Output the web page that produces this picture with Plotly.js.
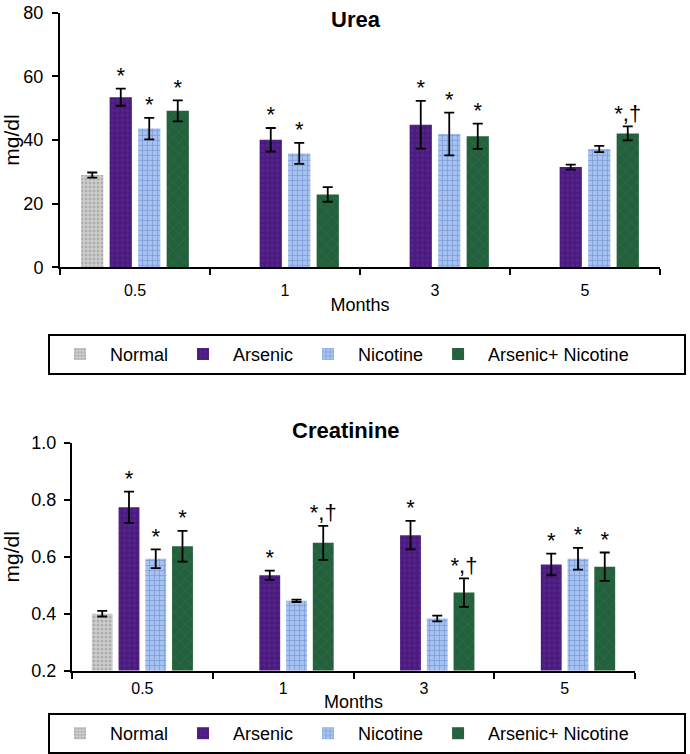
<!DOCTYPE html>
<html>
<head>
<meta charset="utf-8">
<script src="https://cdn.plot.ly/plotly-3.0.1.min.js"></script>
<style>html,body{margin:0;padding:0;background:#fff;}#chart{width:690px;height:754px;}</style>
</head>
<body>
<div id="chart"></div>
<script>
// ---- Data ----
const months = ['0.5', '1', '3', '5'];
const groups = ['Normal', 'Arsenic', 'Nicotine', 'Arsenic+ Nicotine'];

// Urea (mg/dl)
const ureaNormal = [29.0, null, null, null];
const ureaArsenic = [53.5, 40.1, 44.8, 31.5];
const ureaNicotine = [43.6, 35.8, 41.9, 37.2];
const ureaArsNic = [49.2, 22.9, 41.2, 42.1];
const ureaNormalErr = [0.8, 0, 0, 0];
const ureaArsenicErr = [2.7, 3.7, 7.5, 0.8];
const ureaNicotineErr = [3.4, 3.3, 6.7, 1.0];
const ureaArsNicErr = [3.3, 2.3, 4.0, 2.2];
const ureaNormalSig = ['', '', '', ''];
const ureaArsenicSig = ['*', '*', '*', ''];
const ureaNicotineSig = ['*', '*', '*', ''];
const ureaArsNicSig = ['*', '', '*', '*,†'];

// Creatinine (mg/dl)
const creaNormal = [0.40, null, null, null];
const creaArsenic = [0.774, 0.535, 0.676, 0.573];
const creaNicotine = [0.593, 0.445, 0.383, 0.593];
const creaArsNic = [0.637, 0.649, 0.474, 0.565];
const creaNormalErr = [0.01, 0, 0, 0];
const creaArsenicErr = [0.055, 0.016, 0.05, 0.038];
const creaNicotineErr = [0.033, 0.004, 0.01, 0.038];
const creaArsNicErr = [0.054, 0.06, 0.05, 0.05];
const creaNormalSig = ['', '', '', ''];
const creaArsenicSig = ['*', '*', '*', '*'];
const creaNicotineSig = ['*', '', '', '*'];
const creaArsNicSig = ['*', '*,†', '*,†', '*'];

// ---- Styles ----
const styles = [
  {color: '#cfcfcf', pattern: {shape: '.', fgcolor: '#8a8a8a', size: 4, solidity: 0.45, fillmode: 'overlay'}},
  {color: '#4b1a7e', pattern: {shape: '.', fgcolor: '#5d2d92', size: 5, solidity: 0.4, fillmode: 'overlay'}},
  {color: '#a6c2f0', pattern: {shape: '+', fgcolor: '#5676bf', size: 5, solidity: 0.3, fillmode: 'overlay'}},
  {color: '#23603c', pattern: {shape: 'x', fgcolor: '#3f7d58', size: 8, solidity: 0.15, fillmode: 'overlay'}}
];
const legendNames = [
  'Normal',
  'Arsenic',
  'Nicotine',
  'Arsenic+ Nicotine\u00a0\u00a0\u00a0\u00a0\u00a0\u00a0\u00a0\u00a0\u00a0\u00a0'
];

function sumArr(a, b) { return a.map((v, i) => v == null ? null : v + b[i]); }

const traces = [];
function addPanel(vals, errs, sigs, xa, ya, legendId) {
  vals.forEach((v, i) => {
    traces.push({
      type: 'bar', x: months, y: v, xaxis: xa, yaxis: ya,
      name: legendNames[i], legend: legendId, legendgroup: legendId + i,
      marker: {color: styles[i].color, pattern: styles[i].pattern, line: {width: 0}},
      error_y: {type: 'data', array: errs[i], color: '#000', thickness: 1.8, width: 5, visible: true},
      hoverinfo: 'skip'
    });
  });
  vals.forEach((v, i) => {
    traces.push({
      type: 'scatter', mode: 'text', x: months, y: sumArr(v, errs[i]), xaxis: xa, yaxis: ya,
      text: sigs[i], textposition: 'top center',
      textfont: {family: 'Arial, Liberation Sans, sans-serif', size: 22, color: '#000'},
      showlegend: false, hoverinfo: 'skip', cliponaxis: false
    });
  });
}
addPanel([ureaNormal, ureaArsenic, ureaNicotine, ureaArsNic],
         [ureaNormalErr, ureaArsenicErr, ureaNicotineErr, ureaArsNicErr],
         [ureaNormalSig, ureaArsenicSig, ureaNicotineSig, ureaArsNicSig], 'x', 'y', 'legend');
addPanel([creaNormal, creaArsenic, creaNicotine, creaArsNic],
         [creaNormalErr, creaArsenicErr, creaNicotineErr, creaArsNicErr],
         [creaNormalSig, creaArsenicSig, creaNicotineSig, creaArsNicSig], 'x2', 'y2', 'legend2');

const W = 690, H = 754;
const font = 'Arial, Liberation Sans, sans-serif';
const xBase = {
  type: 'category', showline: true, linecolor: '#000', linewidth: 2, mirror: false,
  ticks: 'outside', ticklen: 6, tickwidth: 2, tickcolor: '#000', tickson: 'boundaries',
  showgrid: false, zeroline: false, tickfont: {family: font, size: 16, color: '#000'},
  fixedrange: true
};
const yBase = {
  showline: true, linecolor: '#000', linewidth: 2, ticks: 'outside', ticklen: 6, tickwidth: 2,
  tickcolor: '#000', showgrid: false, zeroline: false, fixedrange: true,
  tickfont: {family: font, size: 18, color: '#000'}
};
const legBase = {
  orientation: 'h', xref: 'paper', yref: 'paper', xanchor: 'left', yanchor: 'top',
  bordercolor: '#000', borderwidth: 2, bgcolor: '#fff', itemwidth: 50,
  font: {family: font, size: 18, color: '#000'}, traceorder: 'normal'
};

const layout = {
  width: W, height: H,
  margin: {l: 0, r: 0, t: 0, b: 0},
  paper_bgcolor: '#fff', plot_bgcolor: '#fff',
  font: {family: font, color: '#000'},
  barmode: 'group', bargap: 0.24, bargroupgap: 0.22,
  scattermode: 'group', scattergap: 0.24,
  xaxis: Object.assign({}, xBase, {domain: [60 / W, 660 / W], anchor: 'y', ticklabelstandoff: 8,
    title: {text: 'Months', font: {family: font, size: 18, color: '#000'}, standoff: 0}}),
  yaxis: Object.assign({}, yBase, {domain: [1 - 269 / H, 1 - 13 / H], anchor: 'x', range: [0, 80], dtick: 20,
    ticklabelstandoff: 5,
    title: {text: 'mg/dl', font: {family: font, size: 21, color: '#000'}, standoff: 8}}),
  xaxis2: Object.assign({}, xBase, {domain: [72 / W, 635 / W], anchor: 'y2', ticklabelstandoff: 2,
    title: {text: 'Months', font: {family: font, size: 18, color: '#000'}, standoff: 0}}),
  yaxis2: Object.assign({}, yBase, {domain: [1 - 675 / H, 1 - 446 / H], anchor: 'x2', range: [0.2, 1.0], dtick: 0.2,
    tickformat: '.1f', ticklabelstandoff: 4,
    title: {text: 'mg/dl', font: {family: font, size: 21, color: '#000'}, standoff: 6}}),
  legend: Object.assign({}, legBase, {x: 48 / W, y: 1 - 336 / H}),
  legend2: Object.assign({}, legBase, {x: 48 / W, y: 1 - 718 / H}),
  annotations: [
    {text: '<b>Urea</b>', xref: 'x domain', yref: 'y domain', x: 0.493, y: 0.973,
     xanchor: 'center', yanchor: 'middle', showarrow: false, font: {family: font, size: 22, color: '#000'}},
    {text: '<b>Creatinine</b>', xref: 'x2 domain', yref: 'y2 domain', x: 0.487, y: 1.057,
     xanchor: 'center', yanchor: 'middle', showarrow: false, font: {family: font, size: 22, color: '#000'}}
  ]
};

Plotly.newPlot('chart', traces, layout, {displayModeBar: false, staticPlot: true});
</script>
</body>
</html>
